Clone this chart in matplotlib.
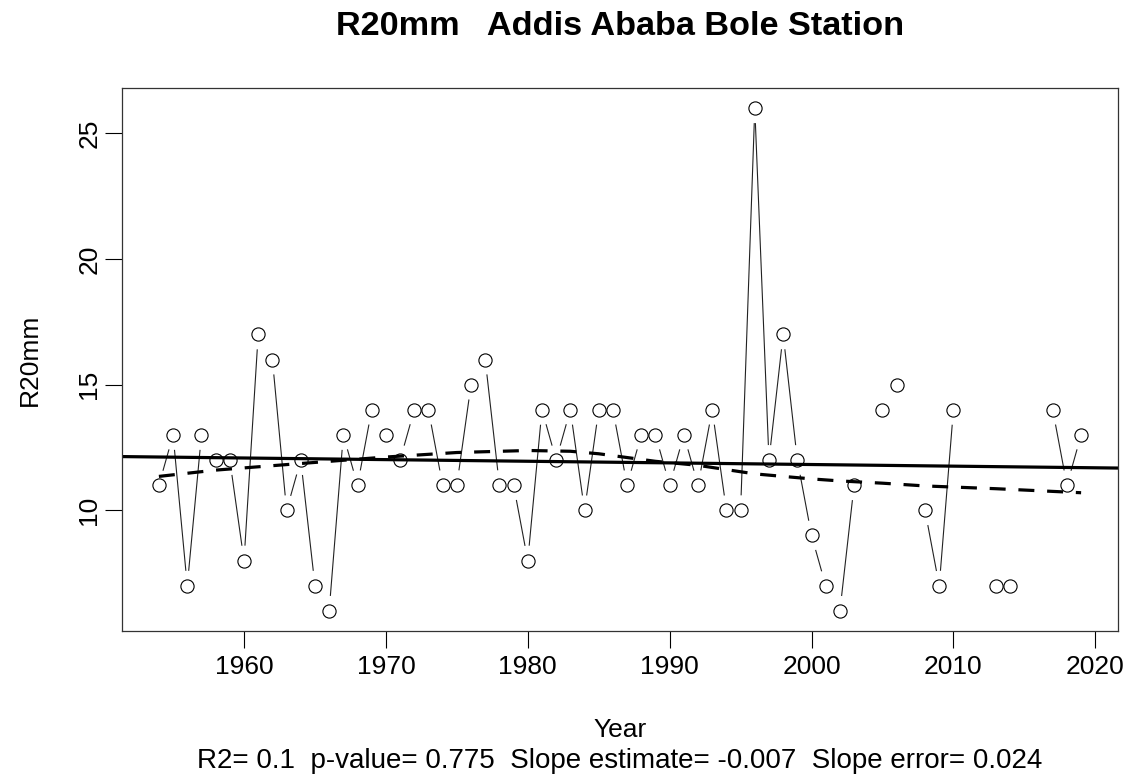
import matplotlib
matplotlib.use('Agg')
import matplotlib.pyplot as plt
import numpy as np

plt.rcParams['font.family'] = ['Liberation Sans', 'DejaVu Sans']

# yearly R20mm counts, nan = missing year
years = np.arange(1954, 2020)
r20 = [11, 13, 7, 13, 12, 12, 8, 17, 16, 10,
       12, 7, 6, 13, 11, 14, 13, 12, 14, 14,
       11, 11, 15, 16, 11, 11, 8, 14, 12, 14,
       10, 14, 14, 11, 13, 13, 11, 13, 11, 14,
       10, 10, 26, 12, 17, 12, 9, 7, 6, 11,
       np.nan, 14, 15, np.nan, 10, 7, 14, np.nan, np.nan, 7,
       7, np.nan, np.nan, 14, 11, 13]
r20 = np.array(r20, dtype=float)

# smoothed curve (dashed)
smooth_years = [1954, 1958, 1963, 1970, 1975, 1980, 1983, 1985, 1987, 1989,
                1992, 1994, 1996, 2000, 2002, 2005, 2008, 2013, 2019]
smooth_vals = [11.35, 11.6, 11.82, 12.12, 12.3, 12.38, 12.35, 12.25, 12.1, 11.95,
               11.79, 11.62, 11.45, 11.25, 11.17, 11.08, 10.97, 10.86, 10.70]

# linear trend
trend_x = [1951.1, 2021.9]
trend_y = [12.14, 11.68]

title = "R20mm   Addis Ababa Bole Station"
subtitle = "R2= 0.1  p-value= 0.775  Slope estimate= -0.007  Slope error= 0.024"

fig = plt.figure(figsize=(11.31, 7.76), dpi=100)
ax = fig.add_axes([122 / 1131, 1 - 631 / 776, (1118 - 122) / 1131, (631 - 88) / 776])

ax.set_xlim(1951.4, 2021.6)
ax.set_ylim(5.2, 26.8)

# R style type="b": segments with a gap around each point
gap = 15  # pixels
fig.canvas.draw()
tr = ax.transData
inv = tr.inverted()
for i in range(len(years) - 1):
    if np.isnan(r20[i]) or np.isnan(r20[i + 1]):
        continue
    p0 = tr.transform((years[i], r20[i]))
    p1 = tr.transform((years[i + 1], r20[i + 1]))
    d = p1 - p0
    L = np.hypot(*d)
    if L <= 2 * gap:
        continue
    u = d / L
    a = inv.transform(p0 + u * gap)
    b = inv.transform(p1 - u * gap)
    ax.plot([a[0], b[0]], [a[1], b[1]], color='#222222', lw=0.8, solid_capstyle='butt')

ax.plot(years, r20, 'o', mfc='none', mec='black', ms=9.5, mew=0.8, ls='none')

ax.plot(trend_x, trend_y, color='black', lw=2.3)
ax.plot(smooth_years, smooth_vals, color='black', lw=2.3, ls=(0, (5, 4)))

ax.set_xticks([1960, 1970, 1980, 1990, 2000, 2010, 2020])
ax.set_yticks([10, 15, 20, 25])
ax.tick_params(axis='both', direction='out', length=12, width=0.8, labelsize=19, colors='black')
ax.tick_params(axis='x', pad=5)
ax.tick_params(axis='y', pad=3)
for lab in ax.get_yticklabels():
    lab.set_rotation(90)
    lab.set_va('center')
for s in ax.spines.values():
    s.set_linewidth(0.9)
    s.set_color('#333333')

cx = (122 + 1118) / 2 / 1131
fig.text(cx, 1 - 35 / 776, title, ha='center', va='baseline', fontsize=24.7, fontweight='bold')
fig.text(30 / 1131, 1 - 360 / 776, 'R20mm', rotation=90, ha='center', va='center', fontsize=19)
fig.text(cx, 1 - 737 / 776, 'Year', ha='center', va='baseline', fontsize=19)
fig.text(cx, 1 - 768 / 776, subtitle, ha='center', va='baseline', fontsize=20)

fig.savefig('out.png', dpi=100)
